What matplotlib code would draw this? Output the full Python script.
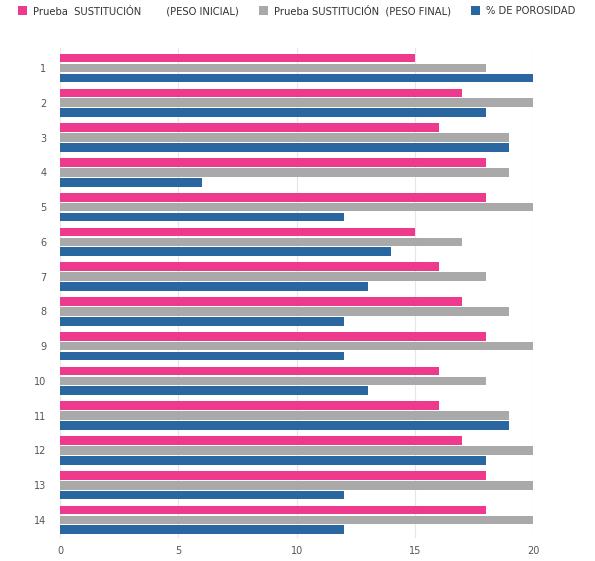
import numpy as np
import matplotlib.pyplot as plt

categories = [str(i) for i in range(1, 15)]
peso_inicial = [15, 17, 16, 18, 18, 15, 16, 17, 18, 16, 16, 17, 18, 18]
peso_final = [18, 20, 19, 19, 20, 17, 18, 19, 20, 18, 19, 20, 20, 20]
porosidad = [20, 18, 19, 6, 12, 14, 13, 12, 12, 13, 19, 18, 12, 12]

labels = ["Prueba  SUSTITUCIÓN        (PESO INICIAL)",
          "Prueba SUSTITUCIÓN  (PESO FINAL)",
          "% DE POROSIDAD"]
colors = ["#EE3A8C", "#A9A9A9", "#2A66A0"]

fig = plt.figure(figsize=(5.95, 5.61), dpi=100)
ax = fig.add_axes([0.101, 0.041, 0.795, 0.873])

y = np.arange(len(categories))
h = 0.25
off = 0.285
for vals, dy, c, lab in zip([peso_inicial, peso_final, porosidad], [-off, 0, off], colors, labels):
    ax.barh(y + dy, vals, height=h, color=c, label=lab)

ax.set_xlim(0, 20)
ax.set_ylim(len(categories) - 0.48, -0.57)
ax.set_yticks(y)
ax.set_yticklabels(categories)
ax.set_xticks([0, 5, 10, 15, 20])
ax.tick_params(length=0, labelsize=7, colors="#555555")
ax.tick_params(axis="y", pad=10)
ax.tick_params(axis="x", pad=6)
for s in ax.spines.values():
    s.set_visible(False)
ax.grid(axis="x", color="#E6E6E6", linewidth=0.8)
ax.set_axisbelow(True)

handles, labs = ax.get_legend_handles_labels()
fig.legend(handles, labs, loc="upper left", bbox_to_anchor=(0.015, 1.008), ncol=3,
           frameon=False, fontsize=7.2, handlelength=0.9, handleheight=1.1,
           handletextpad=0.6, columnspacing=2.0, labelcolor="#333333")

fig.savefig("out.png", dpi=100)
